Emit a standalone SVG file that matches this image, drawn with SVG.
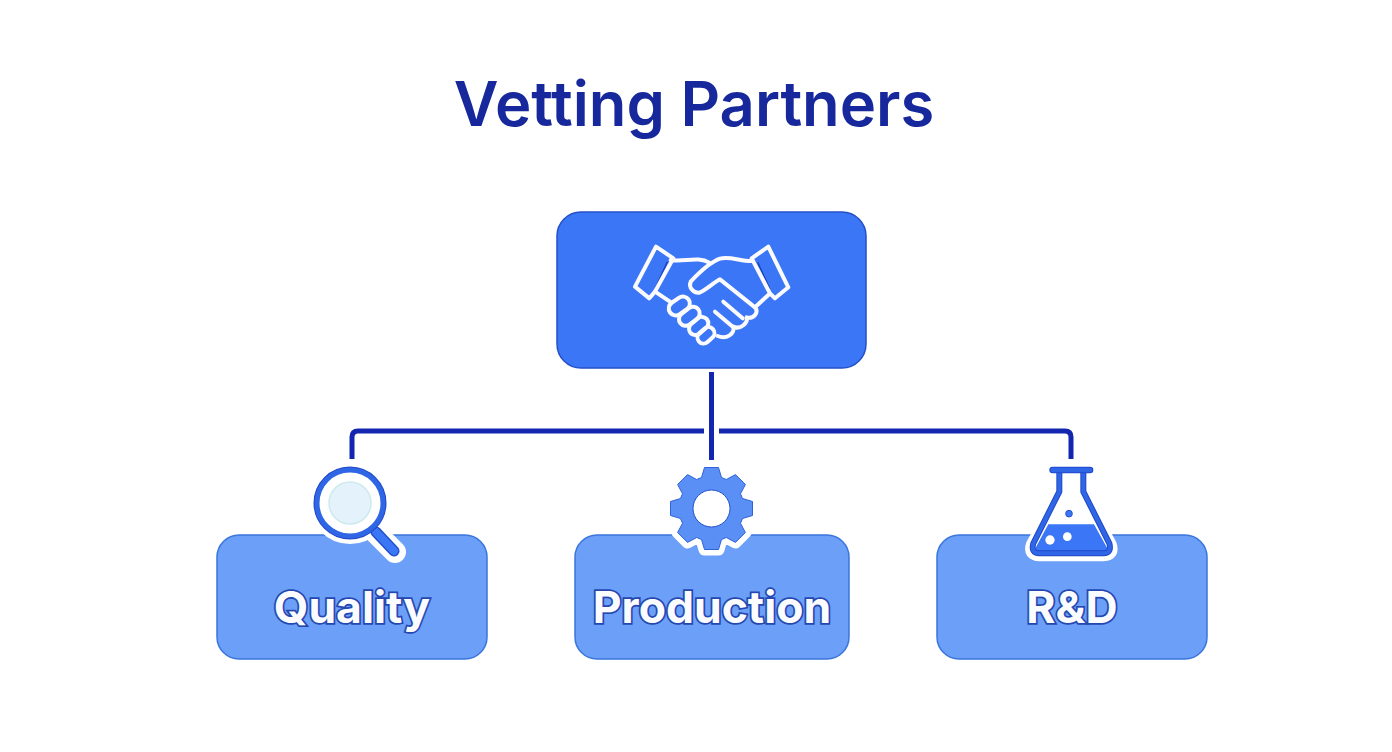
<svg xmlns="http://www.w3.org/2000/svg" width="1392" height="752" viewBox="0 0 1392 752">
<style>
.title{font-family:Inter,"Liberation Sans",sans-serif;font-weight:600;font-size:61.500px;fill:#16289c;text-anchor:middle}
.box{fill:#6c9ff8;stroke:#3a76dc;stroke-width:1.5}
.label{font-family:Inter,"Liberation Sans",sans-serif;font-weight:700;font-size:44.500px;fill:#fbfcff;stroke:#2448b0;stroke-width:3.500;paint-order:stroke;text-anchor:middle}
.conn{fill:none;stroke:#1326b0;stroke-width:5}
.hs{fill:none;stroke:#fbfbff;stroke-width:12;stroke-linejoin:round;stroke-linecap:round}
</style>
<rect width="1392" height="752" fill="#fff"/>
<text class="title" x="694" y="126">Vetting Partners</text>
<g id="connectors">
<path class="conn" d="M711.500 372V460"/>
<path class="conn" d="M704 431H358Q352 431 352 437V459"/>
<path class="conn" d="M719 431H1065Q1071 431 1071 437V459"/>
</g>
<g id="node-partners">
<rect x="557" y="212" width="309" height="156" rx="24" fill="#3b76f6" stroke="#2450c8" stroke-width="1.500"/>
<g transform="translate(620 230) scale(.3333)">
<path d="M142 95L106 175M413 97L450 178" fill="none" stroke="#1f3fb8" stroke-width="4"/>
<path class="hs" d="M108 50L160 85L105 185L88 205L45 170Z"/>
<path class="hs" d="M445 50L395 85L450 190L465 205L505 172Z"/>
<path class="hs" d="M152 90C190 97 235 78 268 98"/>
<path class="hs" d="M398 93C365 95 330 78 300 86C275 95 240 125 212 155C205 172 220 190 238 188C258 180 280 158 300 148L405 232C418 248 400 268 380 262C385 280 360 300 340 290C345 310 320 330 293 318"/>
<path class="hs" d="M405 232L445 195"/>
<path class="hs" d="M310 215L368 265M285 245L340 292"/>
<path class="hs" d="M105 185L150 215"/>
<rect class="hs" x="-34" y="-21" width="68" height="42" rx="21" transform="translate(178 228) rotate(-35)"/>
<rect class="hs" x="-34" y="-20" width="68" height="40" rx="20" transform="translate(208 259) rotate(-38)"/>
<rect class="hs" x="-32" y="-19" width="64" height="38" rx="19" transform="translate(236 288) rotate(-40)"/>
<rect class="hs" x="-28" y="-18" width="56" height="36" rx="18" transform="translate(258 316) rotate(-42)"/>
</g>
</g>
<g id="node-quality">
<rect class="box" x="217" y="535" width="270" height="124" rx="22"/>
<text class="label" x="352" y="623">Quality</text>
<g>
<circle cx="350" cy="503" r="41" fill="#fff"/>
<path d="M373 530L395 552" stroke="#fff" stroke-width="22" stroke-linecap="round"/>
<path d="M376 532L394 551" stroke="#2450c8" stroke-width="11" stroke-linecap="round"/>
<path d="M376 532L394 551" stroke="#3b76f6" stroke-width="8" stroke-linecap="round"/>
<circle cx="350" cy="503" r="33" fill="none" stroke="#2148c8" stroke-width="7"/>
<circle cx="350" cy="503" r="33" fill="#fff" stroke="#2f66e6" stroke-width="5"/>
<circle cx="350" cy="503" r="21" fill="#e4f3fb" stroke="#cdeaee" stroke-width="1.500"/>
</g>
</g>
<g id="node-production">
<rect class="box" x="575" y="535" width="274" height="124" rx="22"/>
<text class="label" x="712" y="623">Production</text>
<g transform="translate(711.500 508.500)">
<path fill="#fff" stroke="#fff" stroke-width="12" stroke-linejoin="round" d="M-10-31L-7-41H7L10-31L14.800-29L24-33.900L33.900-24L29-14.800L31-10L41-7V7L31 10L29 14.800L33.900 24L24 33.900L14.800 29L10 31L7 41H-7L-10 31L-14.800 29L-24 33.900L-33.900 24L-29 14.800L-31 10L-41 7V-7L-31-10L-29-14.800L-33.900-24L-24-33.900L-14.800-29Z"/>
<path fill="#5a90f5" stroke="#2f62d8" stroke-width="1" d="M-10-31L-7-41H7L10-31L14.800-29L24-33.900L33.900-24L29-14.800L31-10L41-7V7L31 10L29 14.800L33.900 24L24 33.900L14.800 29L10 31L7 41H-7L-10 31L-14.800 29L-24 33.900L-33.900 24L-29 14.800L-31 10L-41 7V-7L-31-10L-29-14.800L-33.900-24L-24-33.900L-14.800-29Z"/>
<circle r="18.500" fill="#fff" stroke="#2450c8" stroke-width="1"/>
</g>
</g>
<g id="node-rd">
<rect class="box" x="937" y="535" width="270" height="124" rx="22"/>
<text class="label" x="1072" y="623">R&amp;D</text>
<g transform="translate(1010 420) scale(.3333)">
<path d="M148 160V215L62 372Q50 408 90 410H280Q318 408 306 372L220 215V160Z" fill="#fff" stroke="#fff" stroke-width="28" stroke-linejoin="round"/>
<path d="M115 313H252L292 385Q296 400 280 400H88Q72 400 76 385Z" fill="#3b76f6"/>
<path d="M148 155V215L70 370Q62 400 88 400H280Q306 400 298 370L220 215V155" fill="none" stroke="#2148c8" stroke-width="18" stroke-linejoin="round"/>
<path d="M148 155V215L70 370Q62 400 88 400H280Q306 400 298 370L220 215V155" fill="none" stroke="#2f66e6" stroke-width="12" stroke-linejoin="round"/>
<path d="M128 150H240" stroke="#2148c8" stroke-width="20" stroke-linecap="round"/>
<path d="M128 150H240" stroke="#2f66e6" stroke-width="14" stroke-linecap="round"/>
<circle cx="120" cy="360" r="14" fill="#fff"/>
<circle cx="172" cy="350" r="13" fill="#fff"/>
<circle cx="177" cy="281" r="10" fill="#3b76f6" stroke="#2450c8" stroke-width="3"/>
</g>
</g>
</svg>
